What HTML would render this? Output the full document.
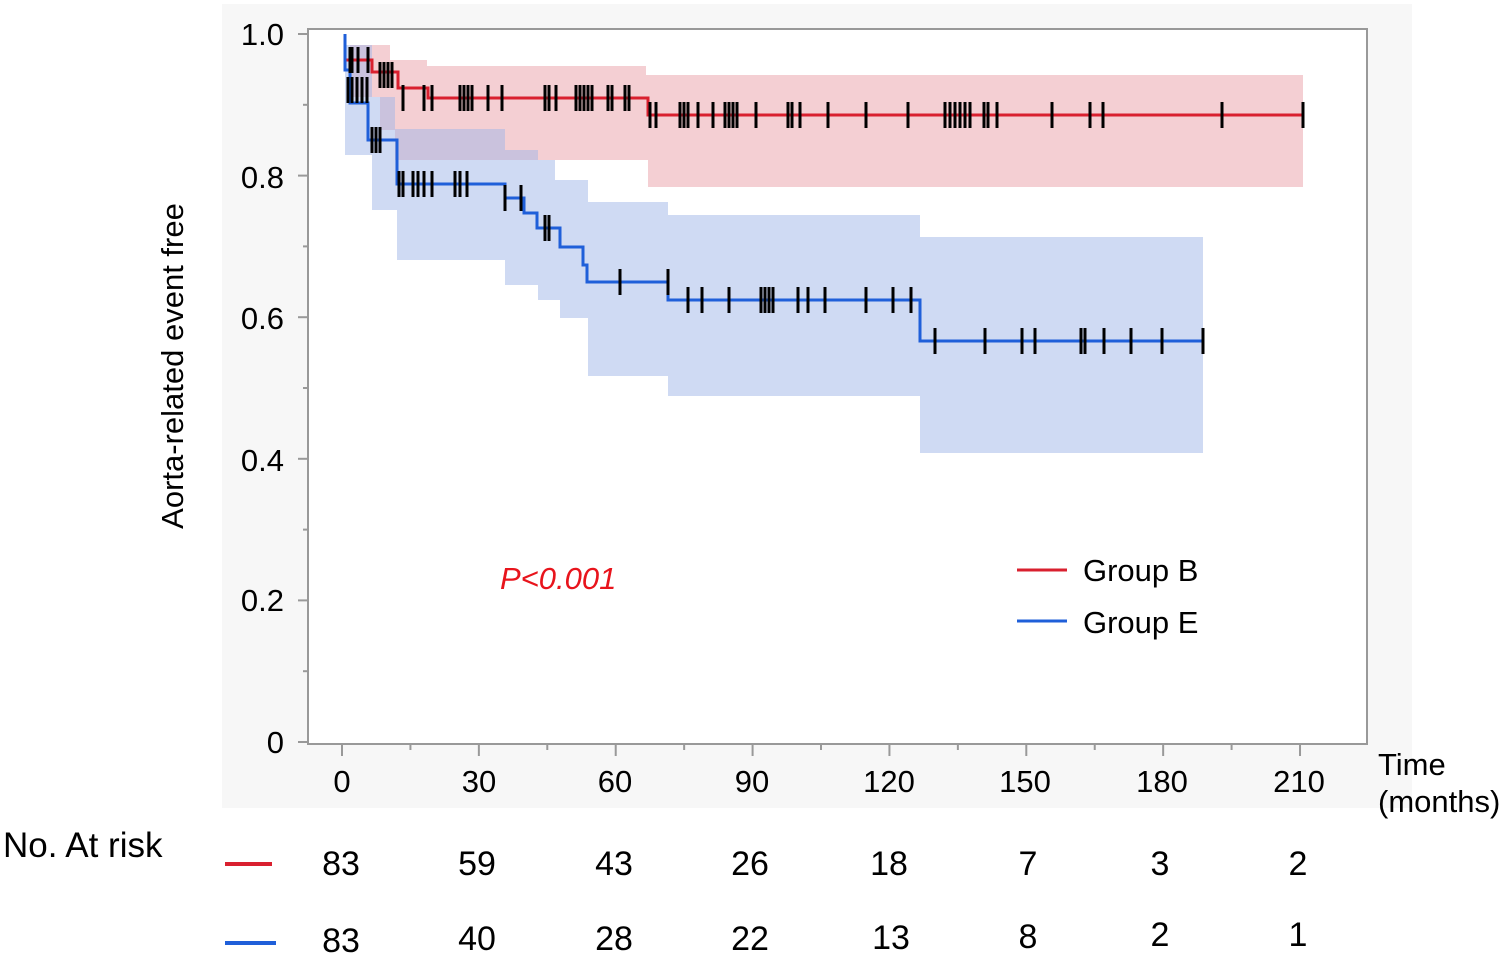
<!DOCTYPE html>
<html><head><meta charset="utf-8"><style>
html,body{margin:0;padding:0;background:#fff;}
svg{display:block;font-family:"Liberation Sans",Arial,sans-serif;}
</style></head><body>
<svg id="s" width="1510" height="963" viewBox="0 0 1510 963" xmlns="http://www.w3.org/2000/svg">
<rect x="222" y="4" width="1190" height="804" fill="#f7f7f7"/>
<rect x="308" y="29" width="1059" height="715" fill="#fff" stroke="#999" stroke-width="2"/>
<path d="M350,45 H390 V60 H427 V66 H646 V75 H1303 V187 H648 V160 H395 V130 H380 V97 H350 Z" fill="#eaa0a8" fill-opacity="0.5"/>
<path d="M345,45 H372 V97 H395 V129 H505 V150 H538 V160 H555 V180 H588 V202 H668 V215 H920 V237 H1203 V453 H920 V396 H668 V376 H588 V318 H560 V300 H538 V285 H505 V260 H397 V210 H372 V155 H345 Z" fill="#9fb6e8" fill-opacity="0.5"/>
<path d="M345,34 V60 H372 V72 H398 V88 H428 V98 H648 V115 H1303" fill="none" stroke="#d9202f" stroke-width="3"/>
<path d="M345,34 V70 H350 V103 H368 V140 H397 V184 H505 V198 H524 V213 H537 V228 H560 V247 H583 V265 H587 V282 H668 V300 H920 V341 H1203" fill="none" stroke="#1f5fd9" stroke-width="3"/>
<g id="ticks" stroke="#000" stroke-width="3"></g>
<g stroke="#999" stroke-width="2" id="axt"></g>
<g font-size="31" fill="#000" text-anchor="end">
<text x="284" y="45">1.0</text><text x="284" y="188">0.8</text><text x="284" y="329">0.6</text><text x="284" y="471">0.4</text><text x="284" y="611">0.2</text><text x="284" y="753">0</text>
</g>
<g font-size="31" fill="#000" text-anchor="middle">
<text x="342" y="792">0</text><text x="479" y="792">30</text><text x="615" y="792">60</text><text x="752" y="792">90</text><text x="889" y="792">120</text><text x="1025" y="792">150</text><text x="1162" y="792">180</text><text x="1299" y="792">210</text>
</g>
<text x="1378" y="775" font-size="31">Time</text>
<text x="1378" y="812" font-size="31">(months)</text>
<text transform="translate(183,366) rotate(-90)" font-size="31" text-anchor="middle">Aorta-related event free</text>
<text x="500" y="589" font-size="31" fill="#e8141c" font-style="italic">P&lt;0.001</text>
<line x1="1017" y1="570" x2="1067" y2="570" stroke="#d9202f" stroke-width="3"/>
<line x1="1017" y1="621" x2="1067" y2="621" stroke="#1f5fd9" stroke-width="3"/>
<text x="1083" y="581" font-size="31">Group B</text>
<text x="1083" y="633" font-size="31">Group E</text>
<text x="3" y="857" font-size="35">No. At risk</text>
<line x1="225" y1="864" x2="272" y2="864" stroke="#d9202f" stroke-width="4"/>
<line x1="225" y1="943" x2="276" y2="943" stroke="#1f5fd9" stroke-width="4"/>
<g font-size="34" text-anchor="middle">
<text x="341" y="875">83</text><text x="477" y="875">59</text><text x="614" y="875">43</text><text x="750" y="875">26</text><text x="889" y="875">18</text><text x="1028" y="875">7</text><text x="1160" y="875">3</text><text x="1298" y="875">2</text>
<text x="341" y="952">83</text><text x="477" y="950">40</text><text x="614" y="950">28</text><text x="750" y="950">22</text><text x="891" y="949">13</text><text x="1028" y="948">8</text><text x="1160" y="946">2</text><text x="1298" y="946">1</text>
</g>
</svg>
<script>
var g=document.getElementById('ticks'),a=document.getElementById('axt'),NS='http://www.w3.org/2000/svg';
function L(p,x1,y1,x2,y2){var l=document.createElementNS(NS,'line');l.setAttribute('x1',x1);l.setAttribute('y1',y1);l.setAttribute('x2',x2);l.setAttribute('y2',y2);p.appendChild(l);}
var T=[[98,[403,424,432,460,464,468,472,488,502,545,549,556,576,580,584,588,592,608,612,625,629]],
[115,[650,656,680,684,688,698,713,725,729,733,737,756,788,792,800,828,866,908,945,950,955,960,965,970,984,988,997,1052,1090,1103,1222,1303]],
[60,[350,352,358,368]],[75,[380,384,388,392]],
[184,[399,403,413,418,424,432,455,460,467]],[198,[505,521]],[228,[545,549]],[282,[620,668]],
[300,[688,702,729,761,765,769,773,798,808,825,866,893,911]],[341,[935,985,1022,1035,1081,1085,1104,1131,1162,1203]],
[90,[348,352,357,362,367]],[140,[372,376,380]]];
T.forEach(function(r){r[1].forEach(function(x){L(g,x,r[0]-13,x,r[0]+13);});});
for(var i=0;i<=10;i++){var y=742-i*70.8;L(a,i%2?303:298,y,308,y);}
for(var m=0;m<=225;m+=15){var x=342+m*4.562;if(x>1367)break;L(a,x,744,x,m%30?750:756);}
</script>
</body></html>
